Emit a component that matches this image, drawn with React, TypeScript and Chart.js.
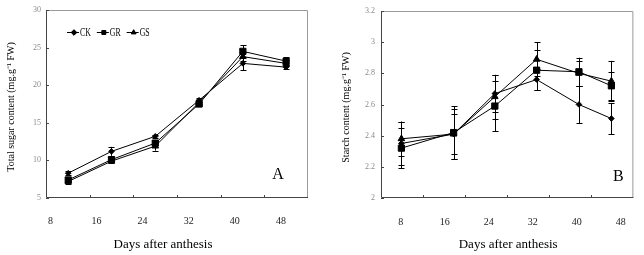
import React, { useEffect, useRef } from 'react';
import { Chart, registerables } from 'chart.js';
import { drawPoint } from 'chart.js/helpers';

Chart.register(...registerables);

// ---------- data ----------
const SERIES_LABELS = ['CK', 'GR', 'GS'];
const SERIES_STYLES = ['rectRot', 'rect', 'triangle'];
const X_TICKS = [8, 16, 24, 32, 40, 48];

// Panel A: total sugar content
const A_DAYS = [11.1, 18.6, 26.2, 33.8, 41.4, 48.9];
const A_CK = [8.3, 11.2, 13.2, 18.0, 22.9, 22.4];
const A_GR = [7.4, 10.1, 12.3, 17.5, 24.5, 23.2];
const A_GS = [7.2, 9.9, 11.9, 17.7, 23.8, 22.9];
const A_CK_ERR = [0.3, 0.6, 0.2, 0.3, 0.9, 0.2];
const A_GR_ERR = [0.3, 0.3, 0.3, 0.3, 0.8, 0.5];
const A_GS_ERR = [0.3, 0.3, 0.6, 0.3, 0.6, 0.4];
const A_Y_TICKS = [5, 10, 15, 20, 25, 30];

// Panel B: starch content
const B_DAYS = [8.1, 17.6, 25.1, 32.7, 40.4, 46.3];
const B_CK = [2.35, 2.41, 2.67, 2.76, 2.6, 2.51];
const B_GR = [2.32, 2.42, 2.59, 2.82, 2.81, 2.72];
const B_GS = [2.38, 2.41, 2.65, 2.89, 2.8, 2.75];
const B_CK_ERR = [0.14, 0.16, 0.12, 0.07, 0.12, 0.1];
const B_GR_ERR = [0.13, 0.17, 0.16, 0.13, 0.09, 0.09];
const B_GS_ERR = [0.11, 0.13, 0.14, 0.11, 0.08, 0.13];
const B_Y_TICKS = [2, 2.2, 2.4, 2.6, 2.8, 3, 3.2];

const SERIF = "'Liberation Serif', 'Times New Roman', serif";

const decor = {
  id: 'decor',
  beforeDatasetsDraw(chart: any, _a: any, opts: any) {
    const { ctx, chartArea: a, scales } = chart;
    ctx.save();
    // frame
    ctx.lineWidth = 1;
    ctx.strokeStyle = '#9a9a9a';
    ctx.beginPath();
    ctx.moveTo(a.left, a.top + 0.5);
    ctx.lineTo(a.right - 0.5, a.top + 0.5);
    ctx.lineTo(a.right - 0.5, a.bottom);
    ctx.stroke();
    ctx.strokeStyle = '#444';
    ctx.beginPath();
    ctx.moveTo(a.left + 0.5, a.top);
    ctx.lineTo(a.left + 0.5, a.bottom - 0.5);
    ctx.lineTo(a.right, a.bottom - 0.5);
    ctx.stroke();
    // inner y tick marks
    ctx.strokeStyle = '#444';
    scales.y.ticks.forEach((t: any) => {
      const py = Math.round(scales.y.getPixelForValue(t.value)) + 0.5;
      ctx.beginPath();
      ctx.moveTo(a.left, py);
      ctx.lineTo(a.left + 3, py);
      ctx.stroke();
    });
    // inner x tick marks at category boundaries
    const n = opts.divisions;
    for (let i = 1; i < n; i++) {
      const px = Math.round(a.left + ((a.right - a.left) * i) / n) + 0.5;
      ctx.beginPath();
      ctx.moveTo(px, a.bottom);
      ctx.lineTo(px, a.bottom - 3);
      ctx.stroke();
    }
    ctx.restore();
  },
  afterDatasetsDraw(chart: any) {
    const { ctx, scales } = chart;
    ctx.save();
    ctx.strokeStyle = '#000';
    ctx.lineWidth = 1;
    chart.data.datasets.forEach((ds: any, i: number) => {
      const meta = chart.getDatasetMeta(i);
      meta.data.forEach((pt: any, j: number) => {
        const e = ds.errors[j];
        const v = ds.data[j].y;
        const yt = scales.y.getPixelForValue(v + e);
        const yb = scales.y.getPixelForValue(v - e);
        const px = Math.round(pt.x) + 0.5;
        ctx.beginPath();
        ctx.moveTo(px, yt);
        ctx.lineTo(px, yb);
        ctx.moveTo(px - 3, Math.round(yt) + 0.5);
        ctx.lineTo(px + 3, Math.round(yt) + 0.5);
        ctx.moveTo(px - 3, Math.round(yb) + 0.5);
        ctx.lineTo(px + 3, Math.round(yb) + 0.5);
        ctx.stroke();
      });
    });
    ctx.restore();
  },
  afterDraw(chart: any, _a: any, opts: any) {
    const { ctx, chartArea: a } = chart;
    ctx.save();
    ctx.fillStyle = '#000';
    // panel letter
    ctx.font = `16px ${SERIF}`;
    ctx.textAlign = 'center';
    ctx.textBaseline = 'middle';
    ctx.fillText(opts.letter, a.right - opts.letterDx, a.bottom - opts.letterDy);
    // x title
    ctx.font = `13px ${SERIF}`;
    ctx.fillText(opts.xTitle, (a.left + a.right) / 2 + opts.xTitleDx, 245);
    // y title
    ctx.save();
    ctx.translate(opts.yTitleX, (a.top + a.bottom) / 2 + 3);
    ctx.rotate(-Math.PI / 2);
    ctx.font = `10px ${SERIF}`;
    ctx.fillText(opts.yTitle, 0, 0);
    ctx.restore();
    // legend
    if (opts.legend) {
      let x0 = a.left + 21;
      const y0 = a.top + 22;
      ctx.textAlign = 'left';
      ctx.font = `12px ${SERIF}`;
      chart.data.datasets.forEach((ds: any) => {
        ctx.strokeStyle = '#000';
        ctx.lineWidth = 1;
        ctx.beginPath();
        ctx.moveTo(x0, y0 + 0.5);
        ctx.lineTo(x0 + 12, y0 + 0.5);
        ctx.stroke();
        drawPoint(ctx, { pointStyle: ds.pointStyle, radius: 2.8, rotation: 0, borderWidth: 1 } as any, x0 + 7, y0 + 0.5);
        ctx.fill();
        const w = ctx.measureText(ds.label).width * 0.65;
        ctx.save();
        ctx.translate(x0 + 13, y0 + 1);
        ctx.scale(0.65, 1);
        ctx.fillText(ds.label, 0, 0);
        ctx.restore();
        x0 += 13 + w + 6;
      });
    }
    ctx.restore();
  },
};

function makeConfig(p: any) {
  const radii = [2.8, 4.4, 3.8];
  return {
    type: 'line',
    data: {
      datasets: p.series.map((vals: number[], k: number) => ({
        label: SERIES_LABELS[k],
        data: p.days.map((d: number, i: number) => ({ x: d, y: vals[i] })),
        errors: p.errors[k],
        borderColor: '#000',
        backgroundColor: '#000',
        borderWidth: 1,
        pointStyle: SERIES_STYLES[k],
        pointRadius: radii[k],
        pointBorderWidth: 1,
        pointBorderColor: '#000',
        pointBackgroundColor: '#000',
        tension: 0,
      })),
    },
    options: {
      responsive: false,
      animation: false,
      devicePixelRatio: 1,
      layout: { padding: { left: 0, right: p.padRight, top: p.padTop, bottom: 0 } },
      plugins: {
        legend: { display: false },
        tooltip: { enabled: false },
        decor: p.decor,
      },
      scales: {
        x: {
          type: 'linear',
          min: p.xMin,
          max: p.xMax,
          afterBuildTicks: (s: any) => {
            s.ticks = X_TICKS.map((v) => ({ value: v }));
          },
          afterFit: (s: any) => {
            s.height = 57;
          },
          grid: { display: false, drawTicks: false },
          border: { display: false },
          ticks: {
            padding: p.xPad,
            autoSkip: false,
            maxRotation: 0,
            color: '#222',
            font: { family: SERIF, size: 10 },
            callback: (v: number) => String(v),
          },
        },
        y: {
          type: 'linear',
          min: p.yTicks[0],
          max: p.yTicks[p.yTicks.length - 1],
          afterBuildTicks: (s: any) => {
            s.ticks = p.yTicks.map((v: number) => ({ value: v }));
          },
          afterFit: (s: any) => {
            s.width = p.yWidth;
          },
          grid: { display: false, drawTicks: false },
          border: { display: false },
          ticks: {
            padding: p.yPad,
            color: '#8a8a8a',
            font: { family: SERIF, size: 8 },
            callback: (v: number) => String(Number(v.toFixed(2))),
          },
        },
      },
    },
    plugins: [decor],
  } as any;
}

export default function App() {
  const refA = useRef<HTMLCanvasElement>(null);
  const refB = useRef<HTMLCanvasElement>(null);

  useEffect(() => {
    const a = new Chart(
      refA.current!,
      makeConfig({
        days: A_DAYS,
        series: [A_CK, A_GR, A_GS],
        errors: [A_CK_ERR, A_GR_ERR, A_GS_ERR],
        yTicks: A_Y_TICKS,
        xMin: 7.24,
        xMax: 52.7,
        padRight: 12,
        padTop: 10,
        yWidth: 46,
        yPad: 5,
        xPad: 17,
        decor: {
          divisions: 6,
          letter: 'A',
          letterDx: 30,
          letterDy: 23,
          xTitle: 'Days after anthesis',
          xTitleDx: -14,
          yTitle: 'Total sugar content (mg.g\u207B\u00B9 FW)',
          yTitleX: 11,
          legend: true,
        },
      })
    );
    const b = new Chart(
      refB.current!,
      makeConfig({
        days: B_DAYS,
        series: [B_CK, B_GR, B_GS],
        errors: [B_CK_ERR, B_GR_ERR, B_GS_ERR],
        yTicks: B_Y_TICKS,
        xMin: 4.39,
        xMax: 50.3,
        padRight: 5,
        padTop: 11,
        yWidth: 61,
        yPad: 6,
        xPad: 18,
        decor: {
          divisions: 6,
          letter: 'B',
          letterDx: 15,
          letterDy: 21,
          xTitle: 'Days after anthesis',
          xTitleDx: 1,
          yTitle: 'Starch content (mg.g\u207B\u00B9 FW)',
          yTitleX: 26,
          legend: false,
        },
      })
    );
    return () => {
      a.destroy();
      b.destroy();
    };
  }, []);

  return (
    <div
      style={{
        position: 'absolute',
        left: 0,
        top: 0,
        width: 644,
        height: 255,
        display: 'flex',
        background: '#fff',
      }}
    >
      <canvas ref={refA} width={320} height={255} style={{ display: 'block' }} />
      <canvas ref={refB} width={324} height={255} style={{ display: 'block' }} />
    </div>
  );
}
